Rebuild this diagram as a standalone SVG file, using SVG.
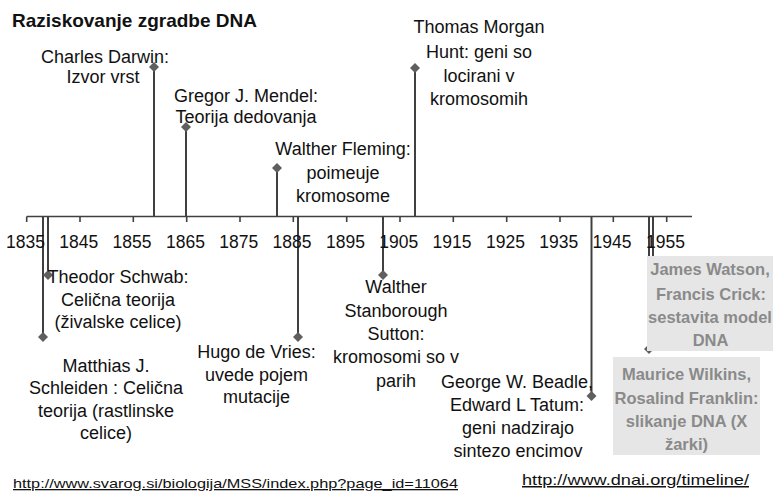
<svg xmlns="http://www.w3.org/2000/svg" width="774" height="495" viewBox="0 0 774 495">
<style>
  .t { font-family: "Liberation Sans", Arial, sans-serif; font-size: 18px; fill: #111; text-anchor: middle; }
  .yr { font-family: "Liberation Sans", Arial, sans-serif; font-size: 17.5px; fill: #111; text-anchor: middle; }
  .title { font-family: "Liberation Sans", Arial, sans-serif; font-size: 19px; font-weight: bold; fill: #111; }
  .bx { fill: #e6e6e6; stroke: none; }
  .bt { font-family: "Liberation Sans", Arial, sans-serif; font-size: 16.5px; font-weight: bold; fill: #8a8a8a; text-anchor: middle; }
  .stem { stroke: #404040; stroke-width: 2; fill: none; }
  .axis { stroke: #404040; stroke-width: 1.6; fill: none; }
  .dia { fill: #5f5f5f; }
  .url { font-family: "Liberation Sans", Arial, sans-serif; fill: #111; text-decoration: underline; }
</style>
<defs>
  <path id="d" d="M0,-5 L5,0 L0,5 L-5,0 Z"/>
</defs>
<rect width="774" height="495" fill="#fff"/>
<text class="title" x="12" y="27">Raziskovanje zgradbe DNA</text>

<g id="connectors">
  <line class="stem" x1="154" y1="216" x2="154" y2="67"/>
  <line class="stem" x1="186" y1="216" x2="186" y2="127"/>
  <line class="stem" x1="277" y1="216" x2="277" y2="168"/>
  <line class="stem" x1="415" y1="216" x2="415" y2="68"/>
  <line class="stem" x1="43" y1="216" x2="43" y2="337"/>
  <line class="stem" x1="48" y1="216" x2="48" y2="275"/>
  <line class="stem" x1="298" y1="216" x2="298" y2="337"/>
  <line class="stem" x1="383" y1="216" x2="383" y2="275"/>
  <line class="stem" x1="591.5" y1="216" x2="591.5" y2="396"/>
  <line class="stem" x1="649" y1="216" x2="649" y2="349"/>
  <line class="stem" x1="653" y1="216" x2="653" y2="300"/>
  <use href="#d" class="dia" x="154" y="67"/>
  <use href="#d" class="dia" x="186" y="127"/>
  <use href="#d" class="dia" x="277" y="168"/>
  <use href="#d" class="dia" x="415" y="68"/>
  <use href="#d" class="dia" x="43" y="337"/>
  <use href="#d" class="dia" x="48" y="275"/>
  <use href="#d" class="dia" x="298" y="337"/>
  <use href="#d" class="dia" x="383" y="275"/>
  <use href="#d" class="dia" x="591.5" y="396"/>
  <use href="#d" class="dia" x="649" y="349"/>
  <use href="#d" class="dia" x="653" y="300"/>
</g>

<g id="axis">
  <line class="axis" x1="26.7" y1="216.5" x2="692" y2="216.5"/>
  <path class="axis" d="M26.7,216.5V222 M80,216.5V222 M133.3,216.5V222 M186.7,216.5V222 M240,216.5V222 M293.3,216.5V222 M346.7,216.5V222 M400,216.5V222 M453.3,216.5V222 M506.7,216.5V222 M560,216.5V222 M613.3,216.5V222 M666.7,216.5V222"/>
  <text class="yr" x="25.5" y="248">1835</text>
  <text class="yr" x="78.8" y="248">1845</text>
  <text class="yr" x="132" y="248">1855</text>
  <text class="yr" x="185.5" y="248">1865</text>
  <text class="yr" x="238.8" y="248">1875</text>
  <text class="yr" x="292" y="248">1885</text>
  <text class="yr" x="345.5" y="248">1895</text>
  <text class="yr" x="398.8" y="248">1905</text>
  <text class="yr" x="452" y="248">1915</text>
  <text class="yr" x="505.5" y="248">1925</text>
  <text class="yr" x="558.8" y="248">1935</text>
  <text class="yr" x="612" y="248">1945</text>
  <text class="yr" x="665.5" y="248">1955</text>
</g>

<g id="darwin">
  <text class="t" x="105" y="62.5">Charles Darwin:</text>
  <text class="t" x="103" y="83">Izvor vrst</text>
</g>
<g id="mendel">
  <text class="t" x="246" y="102">Gregor J. Mendel:</text>
  <text class="t" x="246" y="122.5">Teorija dedovanja</text>
</g>
<g id="fleming">
  <text class="t" x="343" y="155">Walther Fleming:</text>
  <text class="t" x="343" y="178.5">poimeuje</text>
  <text class="t" x="343" y="202">kromosome</text>
</g>
<g id="morgan">
  <text class="t" x="479" y="33">Thomas Morgan</text>
  <text class="t" x="479" y="57.5">Hunt: geni so</text>
  <text class="t" x="479" y="82">locirani v</text>
  <text class="t" x="479" y="105">kromosomih</text>
</g>
<g id="schwab">
  <text class="t" x="118" y="283">Theodor Schwab:</text>
  <text class="t" x="118" y="305.5">Celična teorija</text>
  <text class="t" x="118" y="328">(živalske celice)</text>
</g>
<g id="schleiden">
  <text class="t" x="106" y="371.5">Matthias J.</text>
  <text class="t" x="106" y="394">Schleiden : Celična</text>
  <text class="t" x="106" y="416.5">teorija (rastlinske</text>
  <text class="t" x="106" y="438.5">celice)</text>
</g>
<g id="devries">
  <text class="t" x="256.5" y="358">Hugo de Vries:</text>
  <text class="t" x="256.5" y="380.5">uvede pojem</text>
  <text class="t" x="256.5" y="403">mutacije</text>
</g>
<g id="sutton">
  <text class="t" x="396" y="293">Walther</text>
  <text class="t" x="396" y="316.5">Stanborough</text>
  <text class="t" x="396" y="340">Sutton:</text>
  <text class="t" x="396" y="363">kromosomi so v</text>
  <text class="t" x="396" y="386.5">parih</text>
</g>
<g id="beadle">
  <text class="t" x="517" y="388">George W. Beadle,</text>
  <text class="t" x="517" y="411">Edward L Tatum:</text>
  <text class="t" x="518" y="433.5">geni nadzirajo</text>
  <text class="t" x="518" y="456.5">sintezo encimov</text>
</g>
<g id="watson">
  <rect class="bx" x="647" y="256" width="126" height="95"/>
  <text class="bt" x="710" y="275">James Watson,</text>
  <text class="bt" x="711" y="299.5">Francis Crick:</text>
  <text class="bt" x="710" y="323">sestavita model</text>
  <text class="bt" x="710.5" y="346">DNA</text>
</g>
<g id="wilkins">
  <rect class="bx" x="613" y="357" width="147" height="98"/>
  <text class="bt" x="686.5" y="380">Maurice  Wilkins,</text>
  <text class="bt" x="686.5" y="404">Rosalind Franklin:</text>
  <text class="bt" x="686.5" y="427">slikanje DNA (X</text>
  <text class="bt" x="686.5" y="450">žarki)</text>
</g>

<g id="sources">
  <text class="url" x="13" y="488" font-size="13" textLength="445" lengthAdjust="spacingAndGlyphs">http://www.svarog.si/biologija/MSS/index.php?page_id=11064</text>
  <text class="url" x="522" y="485" font-size="15" textLength="227" lengthAdjust="spacingAndGlyphs">http://www.dnai.org/timeline/</text>
</g>
</svg>
